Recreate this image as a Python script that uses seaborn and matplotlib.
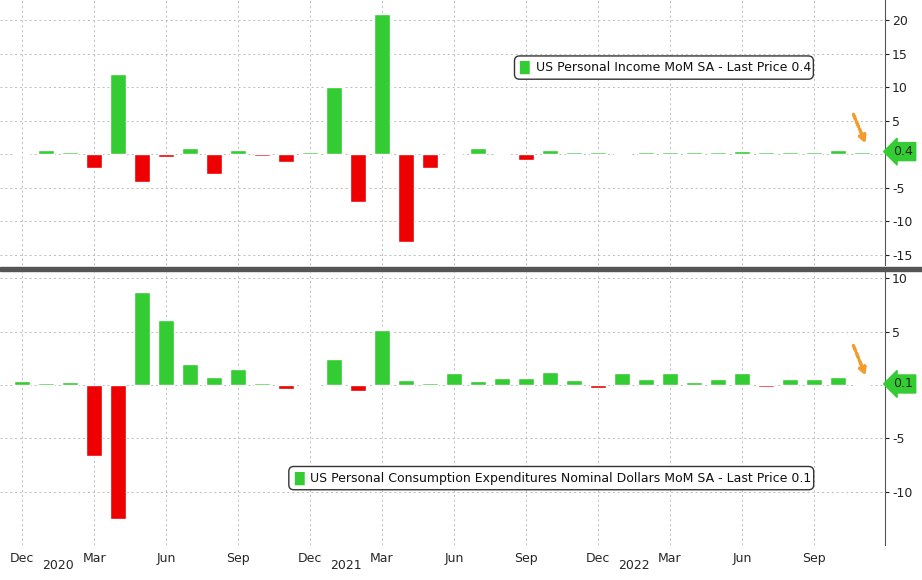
import matplotlib
matplotlib.use("Agg")
import matplotlib.pyplot as plt
import seaborn as sns
import pandas as pd
import numpy as np

months = pd.date_range("2019-12-01", "2022-11-01", freq="MS")
income = [0.1, 0.6, 0.4, -2.0, 12.0, -4.2, -0.4, 1.0, -3.0, 0.6, -0.2, -1.2, 0.4, 10.1, -7.1, 20.9,
          -13.1, -2.0, 0.2, 1.0, 0.2, -0.8, 0.6, 0.4, 0.3, -0.1, 0.4, 0.4, 0.3, 0.4, 0.5, 0.3, 0.3, 0.4, 0.7, 0.4]
pce = [0.4, 0.2, 0.3, -6.7, -12.6, 8.7, 6.1, 2.0, 0.8, 1.5, 0.2, -0.4, -0.1, 2.4, -0.6, 5.2,
       0.5, 0.2, 1.1, 0.4, 0.7, 0.7, 1.2, 0.5, -0.3, 1.1, 0.6, 1.1, 0.3, 0.6, 1.1, -0.2, 0.6, 0.6, 0.8, 0.1]
tick_labels = ["Dec", "Mar", "Jun", "Sep"] * 3
years = ["2020", "2021", "2022"]

GREEN, RED = "#33cc33", "#ee0000"
sns.set_style("white")
plt.rcParams['font.family'] = ['DejaVu Sans']
fig = plt.figure(figsize=(9.22, 5.8), dpi=100)
W, H = 922, 580
ax1 = fig.add_axes([0, 1 - 265 / H, 885 / W, 265 / H])
ax2 = fig.add_axes([0, 1 - 545 / H, 885 / W, 273 / H])

def panel(ax, vals, ticks, ylim, last):
    df = pd.DataFrame({"i": range(len(vals)), "v": vals,
                       "s": ["p" if v >= 0 else "n" for v in vals]})
    sns.barplot(data=df, x="i", y="v", hue="s", palette={"p": GREEN, "n": RED},
                dodge=False, legend=False, width=0.64, saturation=1, ax=ax, native_scale=True)
    ax.set_xlim(-0.92, 35.96)
    ax.set_ylim(*ylim)
    ax.yaxis.tick_right()
    ax.set_yticks(ticks)
    ax.set_yticklabels(["" if t == 0 else str(t) for t in ticks], fontsize=9)
    ax.tick_params(axis="y", length=3, pad=2, colors="#222")
    ax.set_xticks(range(0, 36, 3))
    ax.grid(True, linestyle=(0, (2, 3)), color="#bbbbbb", linewidth=0.7)
    ax.set_xlabel(""); ax.set_ylabel("")
    for s in ["top", "left", "bottom"]:
        ax.spines[s].set_visible(False)
    ax.spines["right"].set_color("#555")
    ax.annotate(str(last), xy=(1.0, last), xycoords=("axes fraction", "data"),
                xytext=(6, 0), textcoords="offset points", va="center", ha="left", fontsize=9,
                bbox=dict(boxstyle="larrow,pad=0.2", fc=GREEN, ec=GREEN), annotation_clip=False)
    span = ylim[1] - ylim[0]
    ax.annotate("", xy=(35.2, last + span * 0.02), xytext=(34.6, last + span * 0.15),
                arrowprops=dict(arrowstyle="-|>", color="#f39c2b", lw=2.5, linestyle=(0, (1.5, 0.8))))

panel(ax1, income, [-15, -10, -5, 0, 5, 10, 15, 20], (-16.5, 23), 0.4)
panel(ax2, pce, [-10, -5, 0, 5, 10], (-15.0, 10.6), 0.1)
ax1.set_xticklabels([])
ax1.tick_params(axis="x", length=0)
ax2.set_xticklabels(tick_labels, fontsize=9)
ax2.tick_params(axis="x", length=3, pad=2)

def legend_box(ax, x, y, text):
    ax.text(x, y, "\u2588 " + text, transform=ax.transAxes, fontsize=9, va="center", ha="left",
            color="white", bbox=dict(boxstyle="round,pad=0.4", fc="white", ec="#333"))
    ax.text(x, y, "\u2588", transform=ax.transAxes, fontsize=9, va="center", ha="left", color=GREEN)
    ax.text(x, y, "\u2588 ", transform=ax.transAxes, fontsize=9, va="center", ha="left", alpha=0)
    t = ax.text(x, y, "\u2588 " + text, transform=ax.transAxes, fontsize=9, va="center", ha="left")
    t.set_text("    " + text) if False else None
    t.remove()
    ax.annotate(text, xy=(x, y), xycoords="axes fraction", xytext=(12, 0), textcoords="offset points",
                fontsize=9, va="center", ha="left", color="#111")

legend_box(ax1, 0.587, 0.745, "US Personal Income MoM SA - Last Price 0.4")
legend_box(ax2, 0.332, 0.245, "US Personal Consumption Expenditures Nominal Dollars MoM SA - Last Price 0.1")

for k, yr in enumerate(years):
    fig.text((22 + (1.5 + 12 * k) * 24) / W, 1 - 569 / H, yr, ha="center", fontsize=9)
fig.add_artist(plt.Rectangle((0, 1 - 271 / H), 1, 4 / H, color="#555", transform=fig.transFigure))
fig.savefig("out.png", dpi=100)
